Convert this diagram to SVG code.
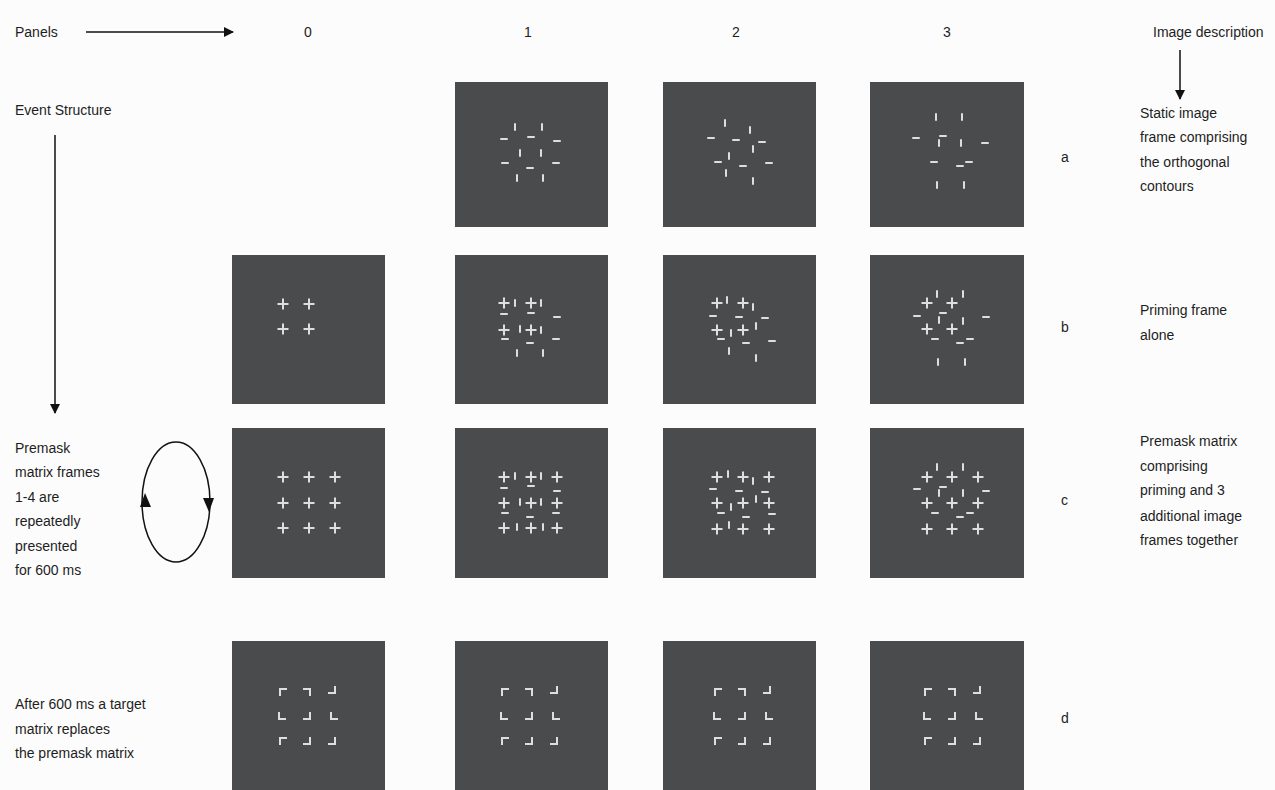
<svg xmlns="http://www.w3.org/2000/svg" width="1275" height="790" viewBox="0 0 1275 790">
<style>
text{font-family:"Liberation Sans",Arial,sans-serif;font-size:14px;fill:#1e1e1e}
.p{fill:#4a4b4d}
.e{fill:#dedede}
.c{fill:none;stroke:#dedede;stroke-width:2}
.ln{stroke:#111;stroke-width:1.5;fill:none}
</style>
<defs>
<marker id="ah" viewBox="0 0 10 10" refX="9" refY="5" markerWidth="10" markerHeight="10" orient="auto" markerUnits="userSpaceOnUse">
<path d="M0,0 L10,5 L0,10 z" fill="#111"/>
</marker>
<filter id="soft" x="-10%" y="-10%" width="120%" height="120%"><feGaussianBlur stdDeviation="0.55"/></filter>
<rect id="h" class="e" x="-4" y="-1" width="8" height="2" rx="1"/>
<rect id="v" class="e" x="-1" y="-4" width="2" height="8" rx="1"/>
<g id="x"><rect class="e" x="-5.5" y="-1" width="11" height="2"/><rect class="e" x="-1" y="-5.5" width="2" height="11"/></g>
<path id="tl" class="c" d="M-3,4 V-3 H4"/>
<path id="tr" class="c" d="M-4,-3 H3 V4"/>
<path id="bl" class="c" d="M-3,-4 V3 H4"/>
<path id="br" class="c" d="M3,-4 V3 H-4"/>
<g id="dpat">
<use href="#tl" x="0" y="0"/><use href="#tr" x="24" y="0"/><use href="#br" x="49" y="-2"/>
<use href="#bl" x="-1" y="24"/><use href="#br" x="24" y="24"/><use href="#bl" x="51" y="24"/>
<use href="#tl" x="0" y="49"/><use href="#br" x="24" y="49"/><use href="#br" x="49" y="49"/>
</g>
</defs>
<rect width="1275" height="790" fill="#fcfcfc"/>

<g id="labels">
<text x="15" y="37">Panels</text>
<text x="304" y="37">0</text>
<text x="524" y="37">1</text>
<text x="732" y="37">2</text>
<text x="943" y="37">3</text>
<text x="1153" y="37">Image description</text>
<text x="15" y="115">Event Structure</text>
<text x="1140" y="118">Static image</text>
<text x="1140" y="142">frame comprising</text>
<text x="1140" y="167">the orthogonal</text>
<text x="1140" y="191">contours</text>
<text x="1061" y="162">a</text>
<text x="1140" y="315">Priming frame</text>
<text x="1140" y="340">alone</text>
<text x="1061" y="332">b</text>
<text x="1140" y="446">Premask matrix</text>
<text x="1140" y="471">comprising</text>
<text x="1140" y="495">priming and 3</text>
<text x="1140" y="521">additional image</text>
<text x="1140" y="545">frames together</text>
<text x="1061" y="505">c</text>
<text x="1061" y="723">d</text>
<text x="15" y="453">Premask</text>
<text x="15" y="477">matrix frames</text>
<text x="15" y="502">1-4 are</text>
<text x="15" y="526">repeatedly</text>
<text x="15" y="551">presented</text>
<text x="15" y="575">for 600 ms</text>
<text x="15" y="709">After 600 ms a target</text>
<text x="15" y="734">matrix replaces</text>
<text x="15" y="758">the premask matrix</text>
</g>

<g id="connectors">
<line class="ln" x1="86" y1="32" x2="233" y2="32" marker-end="url(#ah)"/>
<line class="ln" x1="1180" y1="50" x2="1180" y2="99" marker-end="url(#ah)"/>
<line class="ln" x1="55" y1="135" x2="55" y2="413" marker-end="url(#ah)"/>
<ellipse cx="176" cy="502" rx="34" ry="60" class="ln"/>
<polygon points="145,493 140,507 151,507" fill="#111"/>
<polygon points="209,512 203,498 214,498" fill="#111"/>
</g>

<g id="panel-a1"><rect class="p" x="455" y="82" width="153" height="145"/>
<g filter="url(#soft)">
<use href="#v" x="515" y="127"/><use href="#v" x="542" y="127"/>
<use href="#h" x="504" y="139"/><use href="#h" x="531" y="137"/><use href="#h" x="557" y="141"/>
<use href="#v" x="520" y="153"/><use href="#v" x="541" y="153"/>
<use href="#h" x="505" y="163"/><use href="#h" x="556" y="163"/><use href="#h" x="530" y="168"/>
<use href="#v" x="517" y="178"/><use href="#v" x="543" y="178"/>
</g></g>

<g id="panel-a2"><rect class="p" x="663" y="82" width="153" height="145"/>
<g filter="url(#soft)">
<use href="#v" x="725" y="123"/><use href="#v" x="750" y="130"/>
<use href="#h" x="711" y="138"/><use href="#h" x="736" y="140"/><use href="#h" x="762" y="142"/>
<use href="#v" x="753" y="149"/><use href="#v" x="729" y="156"/>
<use href="#h" x="718" y="162"/><use href="#h" x="769" y="163"/><use href="#h" x="743" y="166"/>
<use href="#v" x="726" y="173"/><use href="#v" x="753" y="181"/>
</g></g>

<g id="panel-a3"><rect class="p" x="870" y="82" width="154" height="145"/>
<g filter="url(#soft)">
<use href="#v" x="936" y="117"/><use href="#v" x="962" y="117"/>
<use href="#h" x="916" y="138"/><use href="#h" x="943" y="136"/>
<use href="#v" x="939" y="143"/><use href="#v" x="961" y="143"/><use href="#h" x="985" y="143"/>
<use href="#h" x="934" y="162"/><use href="#h" x="969" y="162"/><use href="#h" x="960" y="166"/>
<use href="#v" x="937" y="185"/><use href="#v" x="964" y="185"/>
</g></g>

<g id="panel-b0"><rect class="p" x="232" y="255" width="153" height="149"/>
<g filter="url(#soft)">
<use href="#x" x="283" y="304"/><use href="#x" x="309" y="304"/>
<use href="#x" x="283" y="329"/><use href="#x" x="309" y="329"/>
</g></g>

<g id="panel-b1"><rect class="p" x="455" y="255" width="153" height="149"/>
<g filter="url(#soft)">
<use href="#x" x="504" y="303"/><use href="#v" x="515" y="303"/><use href="#x" x="531" y="303"/><use href="#v" x="541" y="303"/>
<use href="#h" x="504" y="314"/><use href="#h" x="531" y="313"/><use href="#h" x="557" y="317"/>
<use href="#x" x="504" y="330"/><use href="#v" x="520" y="329"/><use href="#x" x="531" y="330"/><use href="#v" x="541" y="330"/>
<use href="#h" x="505" y="339"/><use href="#h" x="530" y="343"/><use href="#h" x="556" y="339"/>
<use href="#v" x="517" y="353"/><use href="#v" x="543" y="353"/>
</g></g>

<g id="panel-b2"><rect class="p" x="663" y="255" width="153" height="149"/>
<g filter="url(#soft)">
<use href="#x" x="717" y="303"/><use href="#v" x="727" y="300"/><use href="#x" x="743" y="303"/><use href="#v" x="753" y="307"/>
<use href="#h" x="713" y="316"/><use href="#h" x="739" y="317"/><use href="#h" x="765" y="318"/>
<use href="#x" x="717" y="330"/><use href="#v" x="731" y="333"/><use href="#x" x="743" y="330"/><use href="#v" x="756" y="326"/>
<use href="#h" x="721" y="339"/><use href="#h" x="746" y="343"/><use href="#h" x="772" y="341"/>
<use href="#v" x="729" y="351"/><use href="#v" x="756" y="358"/>
</g></g>

<g id="panel-b3"><rect class="p" x="870" y="255" width="154" height="149"/>
<g filter="url(#soft)">
<use href="#v" x="937" y="294"/><use href="#v" x="963" y="294"/>
<use href="#x" x="927" y="303"/><use href="#x" x="952" y="303"/>
<use href="#h" x="917" y="316"/><use href="#h" x="943" y="313"/>
<use href="#v" x="939" y="320"/><use href="#v" x="963" y="321"/><use href="#h" x="986" y="317"/>
<use href="#x" x="927" y="329"/><use href="#x" x="952" y="329"/>
<use href="#h" x="935" y="339"/><use href="#h" x="970" y="339"/><use href="#h" x="960" y="343"/>
<use href="#v" x="938" y="362"/><use href="#v" x="965" y="362"/>
</g></g>

<g id="panel-c0"><rect class="p" x="232" y="428" width="153" height="150"/>
<g filter="url(#soft)">
<use href="#x" x="283" y="477"/><use href="#x" x="309" y="477"/><use href="#x" x="335" y="477"/>
<use href="#x" x="283" y="503"/><use href="#x" x="309" y="503"/><use href="#x" x="335" y="503"/>
<use href="#x" x="283" y="528"/><use href="#x" x="309" y="528"/><use href="#x" x="335" y="528"/>
</g></g>

<g id="panel-c1"><rect class="p" x="455" y="428" width="153" height="150"/>
<g filter="url(#soft)">
<use href="#x" x="504" y="477"/><use href="#x" x="531" y="477"/><use href="#x" x="557" y="477"/>
<use href="#x" x="504" y="503"/><use href="#x" x="531" y="503"/><use href="#x" x="557" y="503"/>
<use href="#x" x="504" y="528"/><use href="#x" x="531" y="528"/><use href="#x" x="557" y="528"/>
<use href="#v" x="515" y="476"/><use href="#v" x="541" y="476"/>
<use href="#h" x="504" y="488"/><use href="#h" x="531" y="486"/><use href="#h" x="557" y="491"/>
<use href="#v" x="520" y="502"/><use href="#v" x="541" y="502"/>
<use href="#h" x="505" y="513"/><use href="#h" x="530" y="517"/><use href="#h" x="556" y="513"/>
<use href="#v" x="517" y="527"/><use href="#v" x="543" y="527"/>
</g></g>

<g id="panel-c2"><rect class="p" x="663" y="428" width="153" height="150"/>
<g filter="url(#soft)">
<use href="#x" x="717" y="477"/><use href="#x" x="743" y="477"/><use href="#x" x="769" y="477"/>
<use href="#x" x="717" y="503"/><use href="#x" x="743" y="503"/><use href="#x" x="769" y="503"/>
<use href="#x" x="717" y="529"/><use href="#x" x="743" y="529"/><use href="#x" x="769" y="529"/>
<use href="#v" x="728" y="474"/><use href="#v" x="753" y="481"/>
<use href="#h" x="713" y="489"/><use href="#h" x="739" y="491"/><use href="#h" x="765" y="492"/>
<use href="#v" x="731" y="507"/><use href="#v" x="756" y="499"/>
<use href="#h" x="721" y="513"/><use href="#h" x="746" y="517"/><use href="#h" x="772" y="514"/>
<use href="#v" x="729" y="525"/>
</g></g>

<g id="panel-c3"><rect class="p" x="870" y="428" width="154" height="150"/>
<g filter="url(#soft)">
<use href="#v" x="937" y="467"/><use href="#v" x="963" y="467"/>
<use href="#x" x="927" y="477"/><use href="#x" x="952" y="477"/><use href="#x" x="978" y="477"/>
<use href="#x" x="927" y="503"/><use href="#x" x="952" y="503"/><use href="#x" x="978" y="503"/>
<use href="#x" x="927" y="529"/><use href="#x" x="952" y="529"/><use href="#x" x="978" y="529"/>
<use href="#h" x="917" y="489"/><use href="#h" x="943" y="487"/>
<use href="#v" x="939" y="493"/><use href="#v" x="963" y="493"/><use href="#h" x="986" y="491"/>
<use href="#h" x="935" y="513"/><use href="#h" x="970" y="513"/><use href="#h" x="960" y="517"/>
</g></g>

<g id="panel-d0"><rect class="p" x="232" y="641" width="153" height="149"/>
<use href="#dpat" x="283" y="692" filter="url(#soft)"/></g>
<g id="panel-d1"><rect class="p" x="455" y="641" width="153" height="149"/>
<use href="#dpat" x="505" y="692" filter="url(#soft)"/></g>
<g id="panel-d2"><rect class="p" x="663" y="641" width="153" height="149"/>
<use href="#dpat" x="718" y="692" filter="url(#soft)"/></g>
<g id="panel-d3"><rect class="p" x="870" y="641" width="154" height="149"/>
<use href="#dpat" x="928" y="692" filter="url(#soft)"/></g>
</svg>
